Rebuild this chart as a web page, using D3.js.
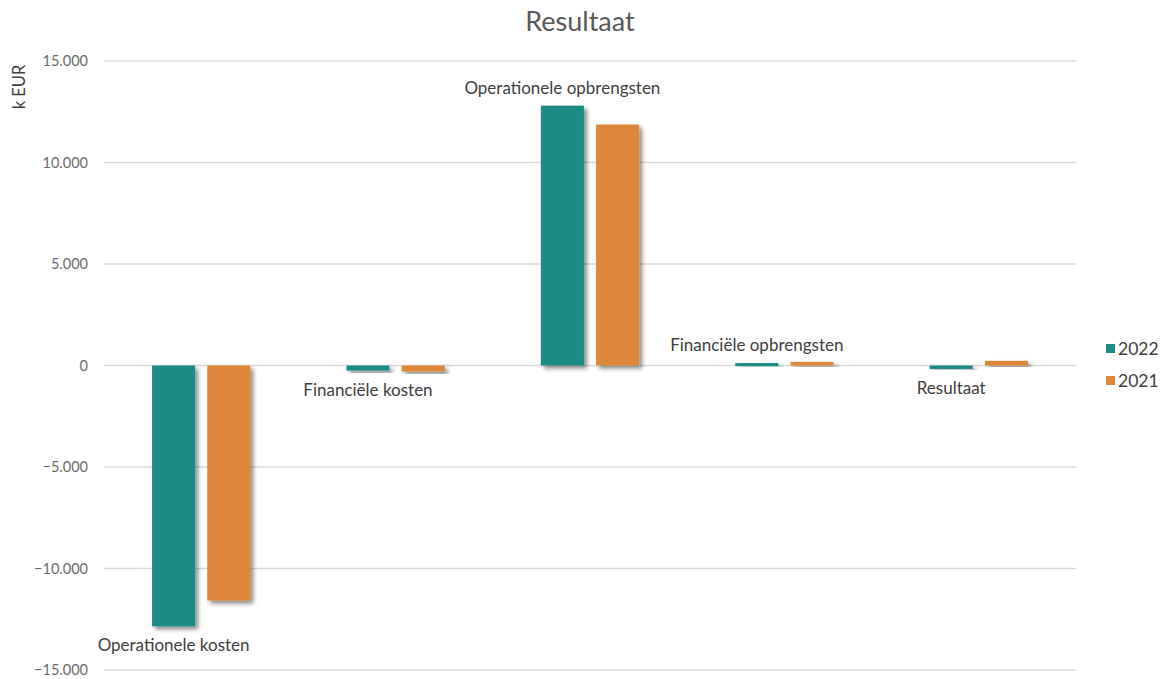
<!DOCTYPE html>
<html>
<head>
<meta charset="utf-8">
<script src="https://cdn.jsdelivr.net/npm/d3@7"></script>
<style>
  html, body { margin: 0; padding: 0; background: #fff; }
  svg { display: block; font-family: "Lato", "Open Sans", sans-serif; }
</style>
</head>
<body>
<svg id="chart" width="1166" height="679"></svg>
<script>
// Resultaat per categorie, in k EUR
const categories = ["Operationele kosten", "Financiële kosten", "Operationele opbrengsten", "Financiële opbrengsten", "Resultaat"];
const seriesNames = ["2022", "2021"];
const values2022 = [-12850, -250, 12800, 120, -170];
const values2021 = [-11580, -300, 11870, 180, 230];
const yTicks = [15000, 10000, 5000, 0, -5000, -10000, -15000];

const colors = { "2022": "#1f8b84", "2021": "#de873b" };
const seriesValues = { "2022": values2022, "2021": values2021 };

const svg = d3.select("#chart");
const margin = { left: 104, right: 90, top: 61, bottom: 9 };
const W = 1166, H = 679;

const defs = svg.append("defs");
const shadow = defs.append("filter").attr("id", "barShadow")
  .attr("x", "-30%").attr("y", "-30%").attr("width", "160%").attr("height", "160%");
shadow.append("feDropShadow")
  .attr("dx", 3).attr("dy", 3).attr("stdDeviation", 2)
  .attr("flood-color", "#000").attr("flood-opacity", 0.45);

const y = d3.scaleLinear().domain([-15000, 15000]).range([H - margin.bottom, margin.top]);
const x0 = d3.scaleBand().domain(categories).range([margin.left, W - margin.right]).paddingInner(0).paddingOuter(0);
const x1 = d3.scaleBand().domain(seriesNames).range([0, x0.bandwidth()]).paddingInner(0.22).paddingOuter(0.87);

const fmt = d3.formatLocale({ decimal: ",", thousands: ".", grouping: [3], currency: ["€", ""] }).format(",.0f");

// gridlines
svg.append("g").selectAll("line").data(yTicks).join("line")
  .attr("x1", margin.left).attr("x2", x0.range()[1])
  .attr("y1", d => y(d)).attr("y2", d => y(d))
  .attr("stroke", "#d9d9d9").attr("stroke-width", 1.3);

// y axis labels
const yAxis = d3.axisLeft(y).tickValues(yTicks).tickFormat(d => fmt(d)).tickSize(0).tickPadding(16);
const ya = svg.append("g").attr("transform", `translate(${margin.left},0)`).call(yAxis);
ya.select(".domain").remove();
ya.selectAll("text").attr("fill", "#6b6b6b").attr("font-size", 14.5).attr("font-family", "Lato, sans-serif");

// axis title
svg.append("text").attr("transform", "translate(25,87) rotate(-90)")
  .attr("text-anchor", "middle").attr("fill", "#404040").attr("font-size", 16.5).text("k EUR");

// chart title
svg.append("text").attr("x", 580).attr("y", 31).attr("text-anchor", "middle")
  .attr("fill", "#595959").attr("font-size", 27).text("Resultaat");

// bars
const groups = svg.append("g").selectAll("g").data(categories).join("g")
  .attr("transform", d => `translate(${x0(d)},0)`);
groups.selectAll("rect").data((c, i) => seriesNames.map(s => ({ s, v: seriesValues[s][i] })))
  .join("rect")
  .attr("x", d => x1(d.s)).attr("width", x1.bandwidth())
  .attr("y", d => Math.min(y(d.v), y(0)))
  .attr("height", d => Math.max(Math.abs(y(d.v) - y(0)), 3))
  .attr("fill", d => colors[d.s])
  .attr("filter", "url(#barShadow)");

// category labels at the outer end of the 2022 bar
svg.append("g").selectAll("text").data(categories).join("text")
  .attr("x", c => x0(c) + x1("2022") + x1.bandwidth() / 2)
  .attr("y", (c, i) => values2022[i] < 0 ? y(values2022[i]) + 25 : y(values2022[i]) - 12)
  .attr("text-anchor", "middle").attr("fill", "#404040").attr("font-size", 17)
  .text(c => c);

// legend
const legend = svg.append("g").attr("transform", "translate(1106,340)");
seriesNames.forEach((s, i) => {
  const g = legend.append("g").attr("transform", `translate(0,${i * 32})`);
  g.append("rect").attr("width", 9).attr("height", 9).attr("y", 4).attr("fill", colors[s]);
  g.append("text").attr("x", 12).attr("y", 15).attr("fill", "#404040").attr("font-size", 17.5).text(s);
});
</script>
</body>
</html>
